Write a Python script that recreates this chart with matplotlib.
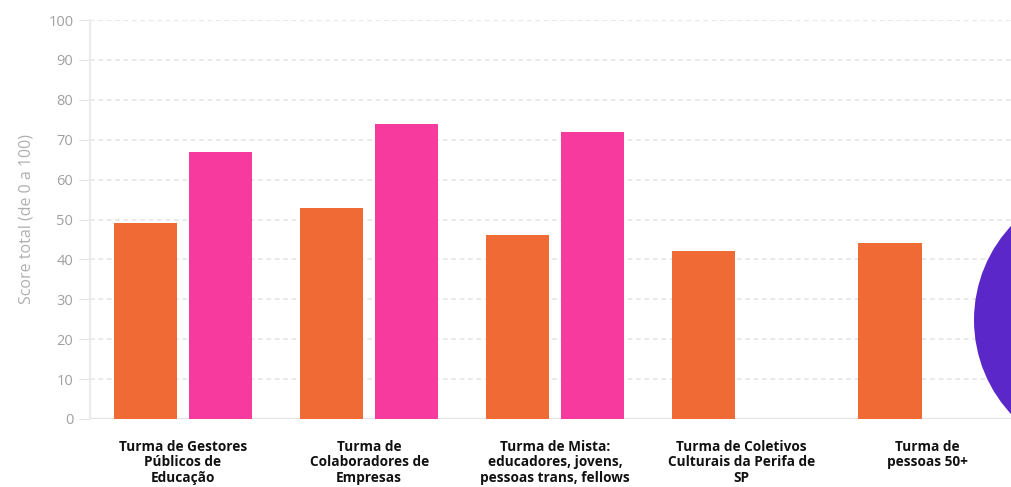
import matplotlib
matplotlib.use("Agg")
import matplotlib.pyplot as plt
from matplotlib.patches import Ellipse
import numpy as np

categories = [
    "Turma de Gestores\nPúblicos de\nEducação",
    "Turma de\nColaboradores de\nEmpresas",
    "Turma de Mista:\neducadores, jovens,\npessoas trans, fellows",
    "Turma de Coletivos\nCulturais da Perifa de\nSP",
    "Turma de\npessoas 50+",
]
score_orange = [49, 53, 46, 42, 44]
score_pink = [67, 74, 72]

ORANGE = "#F06A35"
PINK = "#F73A9E"
PURPLE = "#5B27C9"
GRID = "#E3E3E3"
TICK = "#A0A0A0"

fig = plt.figure(figsize=(10.12, 4.87), dpi=100)
ax = fig.add_axes([90 / 1012, 68 / 487, 1 - 90 / 1012, 399 / 487])

x = np.arange(len(categories))
w = 0.339
off = 0.2016
ax.bar(x - off, score_orange, width=w, color=ORANGE, zorder=3)
ax.bar(x[:len(score_pink)] + off, score_pink, width=w, color=PINK, zorder=3)

ax.set_xlim(-0.5, 4.454)
ax.set_ylim(0, 100)
ax.set_yticks(range(0, 101, 10))
ax.yaxis.grid(True, color=GRID, linestyle=(0, (3, 2.5)), linewidth=1.1, zorder=0)
ax.axhline(0, color=GRID, linewidth=1.5, zorder=2)

for s in ["top", "right", "bottom"]:
    ax.spines[s].set_visible(False)
ax.spines["left"].set_color("#EBEBEB")
ax.spines["left"].set_linewidth(1.5)

ax.tick_params(axis="y", length=8, color=GRID, labelcolor=TICK, labelsize=10.5, pad=4)
for lbl in ax.get_yticklabels():
    lbl.set_family("Open Sans")

ax.set_xticks(x)
ax.set_xticklabels(categories, fontsize=9.8, fontweight="bold", family="Open Sans",
                   color="#111111", linespacing=1.15)
ax.tick_params(axis="x", length=0, pad=15)

ax.set_ylabel("Score total (de 0 a 100)", color="#B0B0B0", fontsize=11.5,
              family="Open Sans", labelpad=10)

fig.patches.append(Ellipse((1112 / 1012, 1 - 320 / 487), 276 / 1012, 276 / 487,
                           transform=fig.transFigure, facecolor=PURPLE,
                           edgecolor="none", zorder=5))

fig.savefig("out.png", dpi=100)
